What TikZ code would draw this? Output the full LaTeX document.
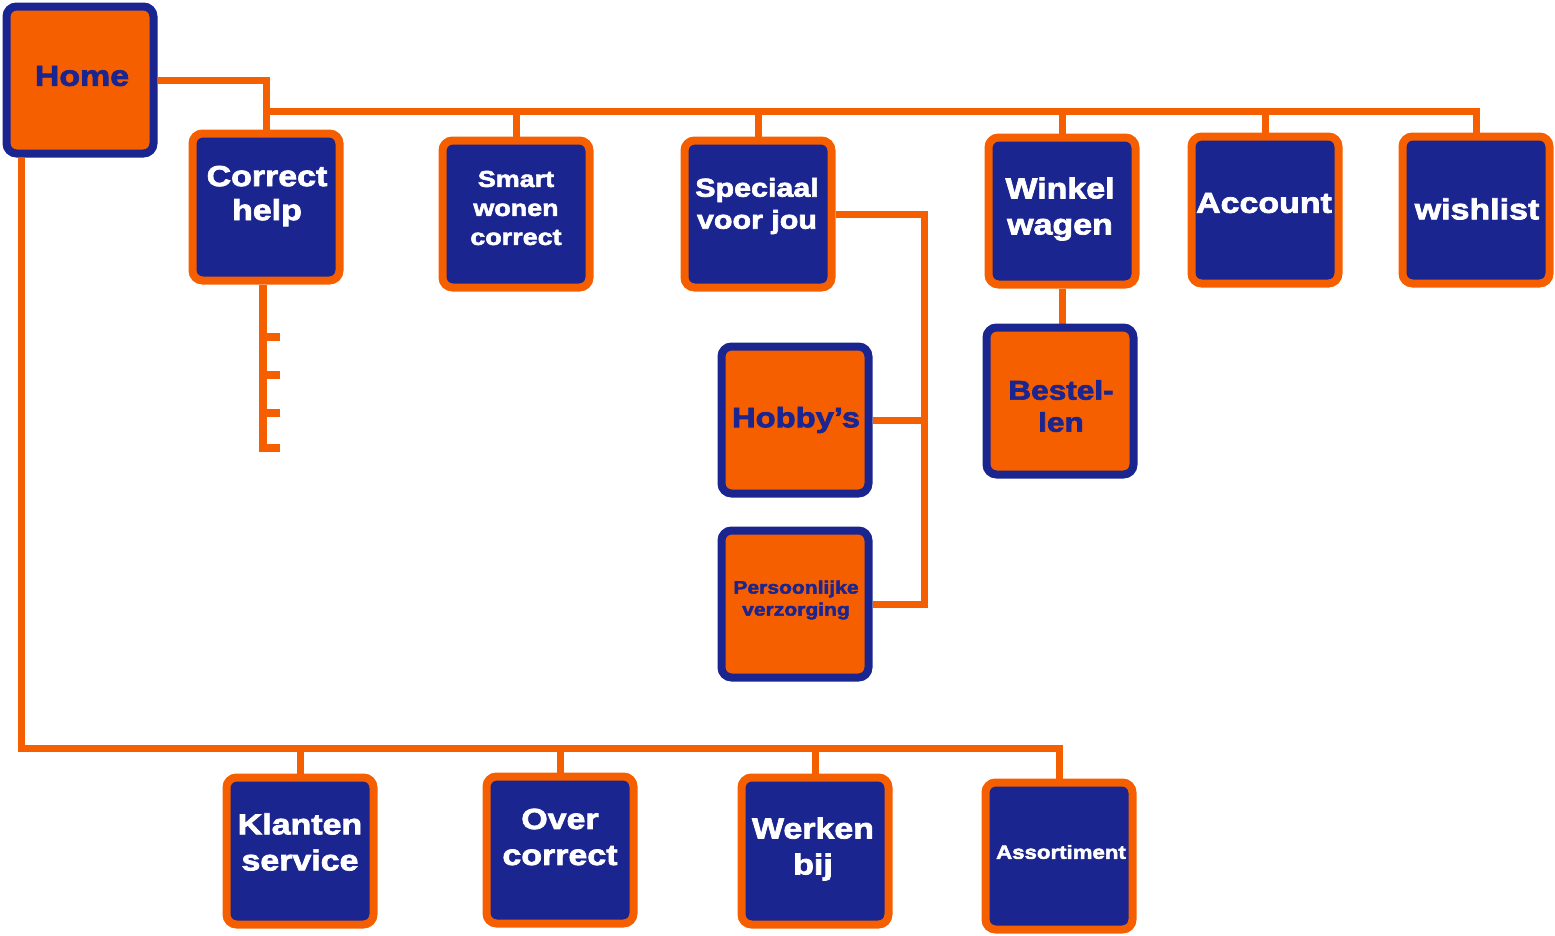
\documentclass[tikz,border=0pt]{standalone}
\usepackage{fontspec}
\setmainfont{Liberation Sans}
\newfontfamily\heavy{Liberation Sans}[FakeStretch=1.17,BoldFeatures={FakeBold=2.5}]
\usetikzlibrary{calc}
\definecolor{org}{RGB}{245,95,0}
\definecolor{blu}{RGB}{27,37,143}
\pgfdeclarelayer{background}
\pgfsetlayers{background,main}
\tikzset{
  boxbase/.style={rectangle, rounded corners=10pt, line width=8pt, minimum width=147pt, minimum height=147pt, inner sep=0pt},
  bluebox/.style={boxbase, draw=org, fill=blu},
  orgbox/.style={boxbase, draw=blu, fill=org},
  wtxt/.style 2 args={text=white, font=\heavy\bfseries\fontsize{#1}{#2}\selectfont, align=center, inner sep=0pt},
  btxt/.style 2 args={text=blu, font=\heavy\bfseries\fontsize{#1}{#2}\selectfont, align=center, inner sep=0pt},
  conn/.style={draw=org, line width=7pt},
}
\begin{document}
\begin{tikzpicture}[x=1pt,y=-1pt]
\useasboundingbox (0,0) rectangle (1555,935);
% boxes
\node[orgbox] (home) at (80,80) {};
\node[bluebox] (ch) at (266,207) {};
\node[bluebox] (smart) at (516,214) {};
\node[bluebox] (spec) at (758,214) {};
\node[bluebox] (wink) at (1062,211) {};
\node[bluebox] (acc) at (1265,210) {};
\node[bluebox] (wish) at (1476,210) {};
\node[orgbox] (best) at (1060,401) {};
\node[orgbox] (hob) at (795,420) {};
\node[orgbox] (pers) at (795,604) {};
\node[bluebox] (klant) at (300,851) {};
\node[bluebox] (over) at (560,850) {};
\node[bluebox] (werk) at (815,851) {};
\node[bluebox] (asrt) at (1059,856) {};
% texts
\node[btxt={29}{34}] (homeT) at (82,76) {Home};
\node[wtxt={29}{34}] (chT) at (267,196) {Correct\\help};
\node[wtxt={23}{29}] (smartT) at (516,208) {Smart\\wonen\\correct};
\node[wtxt={26}{32}] (specT) at (757,206) {Speciaal\\voor jou};
\node[wtxt={29}{36}] (winkT) at (1060,209) {Winkel\\wagen};
\node[wtxt={29}{34}] (accT) at (1264,203) {Account};
\node[wtxt={29}{34}] (wishT) at (1477,209) {wishlist};
\node[btxt={27}{32}] (bestT) at (1061,406) {Bestel-\\len};
\node[btxt={28}{34}] (hobT) at (796,420) {Hobby’s};
\node[btxt={18}{22}] (persT) at (796,600) {Persoonlijke\\verzorging};
\node[wtxt={29}{36}] (klantT) at (300,842) {Klanten\\service};
\node[wtxt={29}{36}] (overT) at (560,837) {Over\\correct};
\node[wtxt={29}{36}] (werkT) at (813,849) {Werken\\bij};
\node[wtxt={19}{24}] (asrtT) at (1061,852) {Assortiment};
% connectors
\coordinate (busL) at (267,111);
\coordinate (hb) at (21,748);
\coordinate (sv) at (924,214);
\coordinate (tk) at (263,452);
\begin{pgfonlayer}{background}
\draw[conn] (home.east) -- (home.east -| ch.north) -- (ch.north);
\draw[conn] (busL) -- (busL -| wish.north) -- (wish.north);
\draw[conn] (smart.north) -- (smart.north |- busL);
\draw[conn] (spec.north) -- (spec.north |- busL);
\draw[conn] (wink.north) -- (wink.north |- busL);
\draw[conn] (acc.north) -- (acc.north |- busL);
\draw[conn] (wink.south) -- (wink.south |- best.north);
\draw[conn] (spec.east) -- (spec.east -| sv) -- (pers.east -| sv) -- (pers.east);
\draw[conn] (hob.east) -- (hob.east -| sv);
\draw[conn] (home.south -| hb) -- (hb) -- (hb -| asrt.north) -- (asrt.north);
\draw[conn] (klant.north) -- (klant.north |- hb);
\draw[conn] (over.north) -- (over.north |- hb);
\draw[conn] (werk.north) -- (werk.north |- hb);
\draw[conn, line width=8pt] (ch.south -| tk) -- (tk);
\foreach \yy in {337,375,413,448}
  \draw[conn, line width=8pt] (259,\yy) -- (280,\yy);
\end{pgfonlayer}
\end{tikzpicture}
\end{document}
